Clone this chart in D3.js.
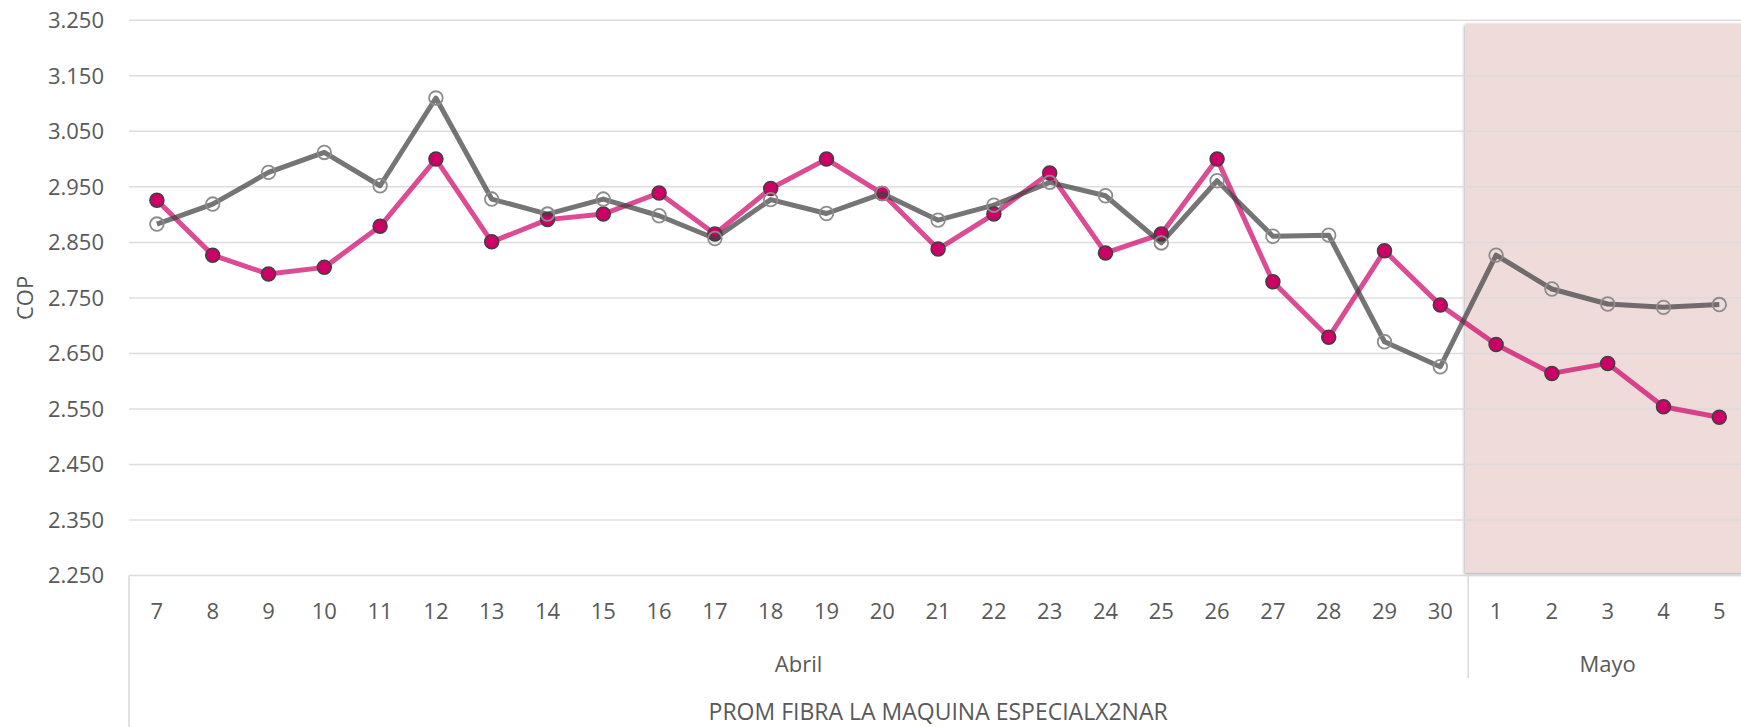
<!DOCTYPE html>
<html>
<head>
<meta charset="utf-8">
<script src="https://cdn.jsdelivr.net/npm/d3@7"></script>
<style>
  html, body { margin: 0; padding: 0; background: #fff; overflow: hidden; }
  svg text { font-family: "Open Sans", "Noto Sans", sans-serif; fill: #595959; }
</style>
</head>
<body>
<script>
const w = 1741;
const h = 727;

// categories
const dias = ["7","8","9","10","11","12","13","14","15","16","17","18","19","20","21","22","23","24","25","26","27","28","29","30","1","2","3","4","5"];
const meses = ["Abril","Abril","Abril","Abril","Abril","Abril","Abril","Abril","Abril","Abril","Abril","Abril","Abril","Abril","Abril","Abril","Abril","Abril","Abril","Abril","Abril","Abril","Abril","Abril","Mayo","Mayo","Mayo","Mayo","Mayo"];
const grupos = ["Abril", "Mayo"];
const tituloX = "PROM FIBRA LA MAQUINA ESPECIALX2NAR";
const tituloY = "COP";

// series values
const seriePink = [2.926, 2.827, 2.793, 2.805, 2.879, 3.000, 2.851, 2.891, 2.901, 2.939, 2.865, 2.947, 3.000, 2.938, 2.838, 2.901, 2.975, 2.831, 2.865, 3.000, 2.779, 2.679, 2.835, 2.737, 2.666, 2.614, 2.632, 2.554, 2.535];
const serieGray = [2.883, 2.919, 2.976, 3.012, 2.952, 3.110, 2.928, 2.901, 2.928, 2.898, 2.857, 2.927, 2.902, 2.938, 2.890, 2.917, 2.958, 2.934, 2.849, 2.961, 2.861, 2.863, 2.671, 2.626, 2.827, 2.766, 2.739, 2.733, 2.738];

// y ticks
const yTicks = [2.25, 2.35, 2.45, 2.55, 2.65, 2.75, 2.85, 2.95, 3.05, 3.15, 3.25];

const left = 129;
const step = 55.8;
const right = left + step * dias.length;

const keys = dias.map((d, i) => i);

const x = d3.scalePoint()
  .domain(keys)
  .range([left, right])
  .padding(0.5);

const y = d3.scaleLinear()
  .domain([2.25, 3.25])
  .range([575.5, 20.3]);

const svg = d3.select("body")
  .append("svg")
  .attr("width", w)
  .attr("height", h);

const defs = svg.append("defs");
const filt = defs.append("filter")
  .attr("id", "sombra")
  .attr("x", "-5%").attr("y", "-5%")
  .attr("width", "110%").attr("height", "110%");
filt.append("feDropShadow")
  .attr("dx", -1)
  .attr("dy", 2)
  .attr("stdDeviation", 1.5)
  .attr("flood-color", "#000")
  .attr("flood-opacity", 0.3);

// shaded area for Mayo
const firstMayo = meses.indexOf("Mayo");
const shadeX = x(firstMayo) - step / 2 - 3;
svg.append("rect")
  .attr("x", shadeX)
  .attr("y", y(3.25) + 3)
  .attr("width", w - shadeX + 20)
  .attr("height", y(2.25) - y(3.25) - 6)
  .attr("fill", "rgb(240,219,219)")
  .attr("filter", "url(#sombra)");

// gridlines
svg.append("g")
  .selectAll("line")
  .data(yTicks)
  .enter()
  .append("line")
  .attr("x1", left)
  .attr("x2", w)
  .attr("y1", d => y(d))
  .attr("y2", d => y(d))
  .attr("stroke", "#d9d9d9")
  .attr("stroke-opacity", 0.9)
  .attr("stroke-width", 1.5);

// y axis labels
const fmt = d3.format(".3f");
svg.append("g")
  .selectAll("text")
  .data(yTicks)
  .enter()
  .append("text")
  .attr("x", 104)
  .attr("y", d => y(d))
  .attr("dy", "0.35em")
  .attr("text-anchor", "end")
  .style("font-size", "22px")
  .text(d => fmt(d));

svg.append("text")
  .attr("transform", "translate(25," + ((y(2.25) + y(3.25)) / 2 + 0) + ") rotate(-90)")
  .attr("text-anchor", "middle")
  .attr("dy", "0.35em")
  .style("font-size", "22px")
  .text(tituloY);

// category box lines
svg.append("line")
  .attr("x1", left).attr("x2", left)
  .attr("y1", y(2.25)).attr("y2", h)
  .attr("stroke", "#d9d9d9").attr("stroke-width", 1.5);

svg.append("line")
  .attr("x1", shadeX + 3).attr("x2", shadeX + 3)
  .attr("y1", y(2.25)).attr("y2", 678)
  .attr("stroke", "#d9d9d9").attr("stroke-width", 1.5);

// day labels
svg.append("g")
  .selectAll("text")
  .data(keys)
  .enter()
  .append("text")
  .attr("x", d => x(d))
  .attr("y", 611)
  .attr("dy", "0.35em")
  .attr("text-anchor", "middle")
  .style("font-size", "22px")
  .text(d => dias[d]);

// month labels
svg.append("g")
  .selectAll("text")
  .data(grupos)
  .enter()
  .append("text")
  .attr("x", g => {
    const idx = keys.filter(k => meses[k] === g);
    return (x(idx[0]) + x(idx[idx.length - 1])) / 2;
  })
  .attr("y", 664)
  .attr("dy", "0.35em")
  .attr("text-anchor", "middle")
  .style("font-size", "22px")
  .text(g => g);

svg.append("text")
  .attr("x", (left + right) / 2)
  .attr("y", 712)
  .attr("dy", "0.35em")
  .attr("text-anchor", "middle")
  .style("font-size", "23px")
  .text(tituloX);

// lines
const linea = d3.line()
  .x((d, i) => x(i))
  .y(d => y(d));

svg.append("path")
  .datum(seriePink)
  .attr("d", linea)
  .attr("fill", "none")
  .attr("stroke", "#cc0066")
  .attr("stroke-opacity", 0.7)
  .attr("stroke-width", 5)
  .attr("stroke-linejoin", "round");

svg.append("g")
  .selectAll("circle")
  .data(seriePink)
  .enter()
  .append("circle")
  .attr("cx", (d, i) => x(i))
  .attr("cy", d => y(d))
  .attr("r", 7)
  .attr("fill", "#cc0066")
  .attr("stroke", "#404040")
  .attr("stroke-width", 1.5);

svg.append("path")
  .datum(serieGray)
  .attr("d", linea)
  .attr("fill", "none")
  .attr("stroke", "#404040")
  .attr("stroke-opacity", 0.72)
  .attr("stroke-width", 5)
  .attr("stroke-linejoin", "round");

svg.append("g")
  .selectAll("circle")
  .data(serieGray)
  .enter()
  .append("circle")
  .attr("cx", (d, i) => x(i))
  .attr("cy", d => y(d))
  .attr("r", 6.8)
  .attr("fill", "none")
  .attr("stroke", "#8c8c8c")
  .attr("stroke-width", 1.8);
</script>
</body>
</html>
